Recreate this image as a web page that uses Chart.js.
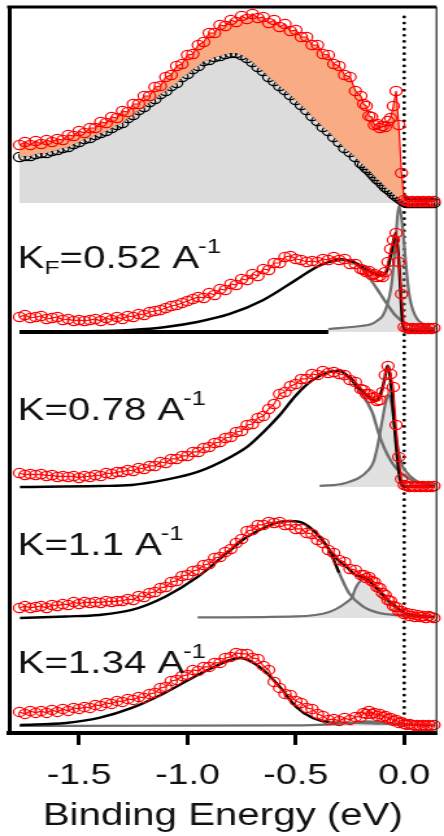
<!DOCTYPE html>
<html>
<head>
<meta charset="utf-8">
<script src="https://cdn.jsdelivr.net/npm/chart.js@4.4.1/dist/chart.umd.min.js"></script>
<style>
  html, body { margin: 0; padding: 0; background: #fff; }
</style>
</head>
<body>
<!-- the reference figure is a horizontally stretched bitmap, so the canvas is stretched the same way -->
<canvas id="chart" width="342" height="836" style="width:444px;height:836px"></canvas>
<script>
// energy grid of the measured points (eV), fine steps close to the Fermi level
const XS = [-1.775, -1.75, -1.725, -1.7, -1.675, -1.65, -1.625, -1.6,
    -1.575, -1.55, -1.525, -1.5, -1.475, -1.45, -1.425, -1.4,
    -1.375, -1.35, -1.325, -1.3, -1.275, -1.25, -1.225, -1.2,
    -1.175, -1.15, -1.125, -1.1, -1.075, -1.05, -1.025, -1.0,
    -0.975, -0.95, -0.925, -0.9, -0.875, -0.85, -0.825, -0.8,
    -0.775, -0.75, -0.725, -0.7, -0.675, -0.65, -0.625, -0.6,
    -0.575, -0.55, -0.525, -0.5, -0.475, -0.45, -0.425, -0.4,
    -0.375, -0.35, -0.325, -0.3, -0.275, -0.25, -0.225, -0.2,
    -0.1875, -0.175, -0.1625, -0.15, -0.1375, -0.125, -0.1125, -0.1,
    -0.0875, -0.075, -0.0625, -0.05, -0.0375, -0.025, -0.0125, 0,
    0.0125, 0.025, 0.0375, 0.05, 0.0625, 0.075, 0.0875, 0.1,
    0.1125, 0.125, 0.1375];

// top panel: EDC at the edge (red) and background EDC (black)
const P1_EDGE = [58, 61, 58, 62, 59, 63, 61, 64,
    63, 68, 67, 72, 70, 75, 75, 81,
    80, 86, 85, 92, 91, 99, 99, 107,
    107, 116, 117, 126, 128, 137, 139, 148,
    149, 158, 161, 170, 170, 178, 177, 183,
    181, 187, 184, 189, 185, 186, 180, 183,
    176, 179, 172, 173, 166, 166, 158, 158,
    149, 148, 139, 137, 128, 126, 112, 107,
    99, 97, 87, 86, 78, 79, 75, 77,
    76, 82, 85, 97, 112, 78, 30, 3,
    2, 1, 2, 1, 2, 1, 2, 1,
    2, 1, 2];
const P1_BG = [46, 47, 47, 49, 50, 50, 52, 53,
    55, 56, 59, 61, 64, 65, 68, 70,
    72, 75, 78, 80, 85, 88, 93, 96,
    101, 104, 109, 112, 117, 120, 126, 129,
    134, 137, 142, 143, 146, 147, 149, 150,
    150, 148, 145, 141, 136, 132, 126, 122,
    117, 113, 108, 103, 98, 93, 87, 82,
    76, 72, 66, 61, 55, 51, 46, 40,
    38, 35, 33, 30, 27, 24, 22, 19,
    16, 14, 12, 9, 7, 5, 3, 1,
    0, 0, 0, 0, 0, 0, 0, 0,
    0, 0, 0];

// measured EDCs for each momentum
const P2_DATA = [15, 17, 14, 15, 16, 13, 14, 15,
    12, 13, 11, 12, 11, 12, 13, 11,
    14, 12, 15, 13, 16, 15, 18, 17,
    20, 21, 22, 24, 26, 27, 29, 31,
    33, 35, 34, 39, 37, 43, 42, 48,
    47, 53, 52, 58, 56, 63, 62, 69,
    69, 75, 76, 73, 72, 70, 71, 70,
    73, 72, 75, 72, 73, 68, 68, 63,
    62, 60, 61, 57, 58, 55, 56, 55,
    60, 70, 83, 92, 99, 70, 38, 5,
    4, 3, 4, 3, 4, 3, 4, 3,
    4, 3, 4];
const P3_DATA = [14, 12, 13, 12, 13, 11, 12, 10,
    11, 10, 11, 9, 11, 10, 12, 11,
    14, 13, 15, 15, 17, 16, 19, 18,
    21, 21, 25, 24, 28, 28, 31, 31,
    35, 35, 39, 40, 44, 45, 49, 50,
    55, 56, 62, 63, 69, 71, 78, 83,
    93, 95, 101, 103, 108, 108, 113, 112,
    116, 114, 115, 113, 112, 107, 105, 98,
    97, 93, 93, 89, 90, 86, 87, 95,
    112, 121, 113, 100, 62, 30, 8, 2,
    1, 0, 1, 0, 1, 0, 1, 0,
    1, 0, 1];
const P4_DATA = [10, 12, 10, 11, 12, 10, 13, 12,
    14, 13, 16, 14, 16, 15, 16, 15,
    17, 16, 17, 17, 19, 18, 22, 21,
    25, 26, 30, 31, 36, 37, 42, 43,
    47, 48, 53, 54, 60, 61, 66, 69,
    75, 79, 87, 88, 93, 93, 96, 95,
    96, 93, 93, 89, 89, 85, 84, 78,
    75, 68, 65, 58, 56, 49, 48, 43,
    43, 40, 41, 37, 36, 31, 30, 25,
    23, 18, 17, 12, 11, 7, 7, 4,
    5, 2, 4, 1, 3, 1, 2, 0,
    2, 1, 0];
const P5_DATA = [14, 12, 15, 13, 15, 13, 16, 14,
    17, 15, 18, 17, 19, 18, 21, 20,
    23, 22, 25, 24, 27, 26, 29, 28,
    32, 33, 38, 39, 45, 46, 50, 51,
    56, 55, 59, 59, 63, 63, 68, 69,
    73, 72, 72, 68, 67, 60, 56, 44,
    38, 32, 31, 25, 23, 18, 17, 12,
    10, 6, 7, 5, 8, 6, 9, 9,
    13, 12, 15, 12, 13, 10, 12, 9,
    10, 7, 8, 5, 6, 3, 4, 2,
    1, 2, 1, 0, 1, 0, 1, 0,
    1, 0, 1];

// fitted components: broad hump, sharp peak, and total fit
const P2_BROAD_X = [-1.773, -1.59, -1.41, -1.26, -1.1, -0.955, -0.805, -0.65, -0.5, -0.42, -0.347,
    -0.293, -0.247, -0.215, -0.18, -0.147, -0.11, -0.079, -0.042, 0.003, 0.049, 0.108, 0.14];
const P2_BROAD = [0.5, 0.5, 1, 2, 5, 10, 18, 32, 52, 63, 70,
    72, 71, 68, 60, 50, 38, 28, 17, 9, 6, 4, 3];
const P2_TOTAL_X = [-0.347, -0.3, -0.25, -0.2, -0.15, -0.12, -0.1, -0.08, -0.06, -0.04, -0.03, -0.02, -0.01, 0, 0.14];
const P2_TOTAL = [70, 73, 71, 66, 60, 57, 57, 61, 78, 99, 85, 55, 15, 2, 1];
const P2_SHARP_X = [-0.35, -0.2, -0.15, -0.12, -0.1, -0.08, -0.06, -0.05, -0.04, -0.03, -0.024,
    -0.015, -0.005, 0.005, 0.015, 0.025, 0.04, 0.06, 0.08, 0.11, 0.14];
const P2_SHARP = [3, 6, 8, 12, 16, 26, 45, 65, 90, 118, 126,
    118, 100, 75, 52, 35, 22, 13, 9, 5, 4];
const P2_BASE_X = [-1.775, -0.35];
const P2_BASE = [0, 0];

const P3_BROAD_X = [-1.773, -1.408, -1.257, -1.105, -0.953, -0.801, -0.725, -0.649, -0.574, -0.498, -0.422,
    -0.346, -0.3, -0.255, -0.209, -0.148, -0.118, -0.088, -0.042, 0.034, 0.14];
const P3_BROAD = [0, 1, 2, 7, 15, 30, 40, 55, 72, 92, 107,
    115, 116, 110, 97, 75, 54, 37, 20, 7, 2];
const P3_TOTAL_X = [-0.255, -0.209, -0.18, -0.15, -0.13, -0.11, -0.09, -0.078, -0.07, -0.06, -0.05,
    -0.04, -0.03, -0.02, -0.01, 0, 0.14];
const P3_TOTAL = [111, 100, 93, 88, 86, 92, 108, 121, 118, 100, 75,
    48, 25, 8, 2, 0.5, 0.5];
const P3_SHARP_X = [-0.39, -0.27, -0.164, -0.14, -0.12, -0.1, -0.085, -0.073, -0.06, -0.05, -0.04,
    -0.027, -0.01, 0.003, 0.049, 0.125, 0.14];
const P3_SHARP = [1, 4, 17, 26, 44, 68, 85, 92, 85, 70, 55,
    37, 22, 17, 7, 2, 2];

const P4_BROAD_X = [-1.773, -1.56, -1.408, -1.257, -1.105, -0.953, -0.801, -0.725, -0.649, -0.574, -0.528,
    -0.467, -0.407, -0.346, -0.3, -0.255, -0.194, -0.118, -0.042, 0.109, 0.14];
const P4_BROAD = [0, 1.5, 3, 8, 21, 41, 68, 81, 90, 96, 97,
    95, 85, 68, 45, 25, 12, 5, 3, 1, 1];
const P4_TOTAL_X = [-0.346, -0.3, -0.27, -0.224, -0.179, -0.133, -0.088, -0.042, 0.003, 0.064, 0.14];
const P4_TOTAL = [68, 57, 52, 43, 40, 31, 21, 12, 5, 2, 1];
const P4_SHARP_X = [-0.953, -0.498, -0.346, -0.27, -0.24, -0.224, -0.194, -0.179, -0.165, -0.133, -0.118,
    -0.088, -0.057, 0.003, 0.064, 0.125, 0.14];
const P4_SHARP = [0.5, 1.5, 6, 15, 21, 30, 39, 41, 39, 31, 28,
    19, 13, 5, 2, 1, 1];

const P5_BROAD_X = [-1.773, -1.56, -1.408, -1.257, -1.105, -0.953, -0.877, -0.801, -0.755, -0.695, -0.649,
    -0.574, -0.498, -0.422, -0.346, -0.194, -0.042, 0.125, 0.14];
const P5_BROAD = [1, 3, 8, 18, 33, 51, 59, 66, 68, 63, 56,
    39, 19, 8, 4, 3, 2, 1, 1];
const P5_SHARP_X = [-1.775, -0.5, -0.35, -0.25, -0.17, -0.1, -0.04, 0.05, 0.14];
const P5_SHARP = [0, 0.5, 1.5, 3, 4.5, 3.5, 2, 1, 0.5];

const XTICKS = [-1.5, -1.0, -0.5, 0.0];

const LABEL_PANELS = ['y2', 'y3', 'y4', 'y5'];
const LABEL_MAIN = ['K', 'K', 'K', 'K'];
const LABEL_SUB = ['F', '', '', ''];
const LABEL_REST = ['=0.52 A', '=0.78 A', '=1.1 A', '=1.34 A'];
const LABEL_SUP = '-1';

const RED = '#ff0000';
const BLACK = '#000000';
const GRAY = '#6f6f6f';
const FONT = '"Liberation Sans", Arial, sans-serif';

Chart.defaults.font.family = FONT;
Chart.defaults.color = '#111';

const pts = (xs, ys) => xs.map((x, i) => ({ x: x, y: ys[i] }));

// measured points: hollow red circles joined by a thin red line
const measured = (ys, axis) => ({
    data: pts(XS, ys),
    yAxisID: axis,
    borderColor: RED,
    borderWidth: 1.2,
    pointRadius: 4.6,
    pointBorderWidth: 1.2,
    pointBorderColor: RED,
    pointBackgroundColor: 'rgba(0,0,0,0)',
    fill: false,
    order: 0
});

// smooth fit curve, black before "cut" and gray after it
const curve = (xs, ys, axis, cut, order) => ({
    data: pts(xs, ys),
    yAxisID: axis,
    borderColor: BLACK,
    borderWidth: 2.4,
    pointRadius: 0,
    cubicInterpolationMode: 'monotone',
    fill: false,
    segment: {
        borderColor: c => c.p0.parsed.x < cut ? BLACK : GRAY
    },
    order: order
});

const sharp = (xs, ys, axis) => ({
    data: pts(xs, ys),
    yAxisID: axis,
    borderColor: GRAY,
    borderWidth: 2.2,
    pointRadius: 0,
    cubicInterpolationMode: 'monotone',
    fill: 'origin',
    backgroundColor: 'rgba(170,170,170,0.35)',
    order: 3
});

const datasets = [
    // top panel
    Object.assign(measured(P1_EDGE, 'y1'), { fill: '+1', backgroundColor: '#f9ab84' }),
    {
        data: pts(XS, P1_BG),
        yAxisID: 'y1',
        borderColor: 'rgba(0,0,0,0.45)',
        borderWidth: 1,
        pointRadius: 4.6,
        pointBorderWidth: 1.2,
        pointBorderColor: BLACK,
        pointBackgroundColor: 'rgba(0,0,0,0)',
        fill: 'origin',
        backgroundColor: '#dcdcdc',
        order: 1
    },
    // kF
    measured(P2_DATA, 'y2'),
    curve(P2_TOTAL_X, P2_TOTAL, 'y2', 1, 1),
    curve(P2_BROAD_X, P2_BROAD, 'y2', -0.3, 2),
    sharp(P2_SHARP_X, P2_SHARP, 'y2'),
    Object.assign(curve(P2_BASE_X, P2_BASE, 'y2', 1, 4), { borderWidth: 4 }),
    // 0.78
    measured(P3_DATA, 'y3'),
    curve(P3_TOTAL_X, P3_TOTAL, 'y3', 1, 1),
    curve(P3_BROAD_X, P3_BROAD, 'y3', -0.22, 2),
    sharp(P3_SHARP_X, P3_SHARP, 'y3'),
    // 1.1
    measured(P4_DATA, 'y4'),
    curve(P4_TOTAL_X, P4_TOTAL, 'y4', 1, 1),
    curve(P4_BROAD_X, P4_BROAD, 'y4', -0.34, 2),
    sharp(P4_SHARP_X, P4_SHARP, 'y4'),
    // 1.34
    measured(P5_DATA, 'y5'),
    curve(P5_BROAD_X, P5_BROAD, 'y5', -0.4, 2),
    sharp(P5_SHARP_X, P5_SHARP, 'y5')
];
datasets.forEach(d => { d.clip = false; });

// one hidden y axis per panel, stacked from top to bottom
const panel = (min, max, weight) => ({
    type: 'linear',
    position: 'left',
    stack: 'panels',
    stackWeight: max - min,
    weight: weight,
    min: min,
    max: max,
    ticks: { display: false },
    grid: { display: false, drawTicks: false },
    border: { display: true, color: BLACK, width: 3 }
});

const figPlugin = {
    id: 'fig',
    beforeDatasetsDraw(chart) {
        const { ctx, chartArea } = chart;
        const x0 = chart.scales.x.getPixelForValue(0);
        ctx.save();
        ctx.strokeStyle = BLACK;
        ctx.lineWidth = 2.8;
        ctx.lineCap = 'round';
        ctx.setLineDash([0.01, 6.1]);
        ctx.beginPath();
        ctx.moveTo(x0, chartArea.top + 10);
        ctx.lineTo(x0, chartArea.bottom - 3);
        ctx.stroke();
        ctx.restore();
    },
    afterDraw(chart) {
        const { ctx, chartArea } = chart;
        ctx.save();
        // top and right sides of the box
        ctx.strokeStyle = BLACK;
        ctx.lineWidth = 3;
        ctx.beginPath();
        ctx.moveTo(chartArea.left - 1.5, chartArea.top);
        ctx.lineTo(chartArea.right, chartArea.top);
        ctx.stroke();
        ctx.lineWidth = 1.2;
        ctx.strokeStyle = '#222';
        ctx.beginPath();
        ctx.moveTo(chartArea.right, chartArea.top);
        ctx.lineTo(chartArea.right, chartArea.bottom);
        ctx.stroke();

        // momentum labels
        const levels = [64, 67, 63, 53];
        ctx.fillStyle = '#111';
        ctx.textAlign = 'left';
        ctx.textBaseline = 'alphabetic';
        LABEL_PANELS.forEach((id, i) => {
            const y = chart.scales[id].getPixelForValue(levels[i]);
            let x = chart.scales.x.getPixelForValue(-1.775) - 1.5;
            ctx.font = '31px ' + FONT;
            ctx.fillText(LABEL_MAIN[i], x, y);
            x += ctx.measureText(LABEL_MAIN[i]).width;
            if (LABEL_SUB[i]) {
                ctx.font = '19px ' + FONT;
                ctx.fillText(LABEL_SUB[i], x, y + 6);
                x += ctx.measureText(LABEL_SUB[i]).width;
            }
            ctx.font = '31px ' + FONT;
            ctx.fillText(LABEL_REST[i], x, y);
            x += ctx.measureText(LABEL_REST[i]).width;
            ctx.font = '20px ' + FONT;
            ctx.fillText(LABEL_SUP, x - 1, y - 15);
        });
        ctx.restore();
    }
};

new Chart(document.getElementById('chart'), {
    type: 'line',
    data: { datasets: datasets },
    plugins: [figPlugin],
    options: {
        responsive: false,
        animation: false,
        events: [],
        layout: { padding: { left: 7, right: 1.5, top: 7, bottom: 10.4 } },
        plugins: {
            legend: { display: false },
            tooltip: { enabled: false }
        },
        scales: {
            x: {
                type: 'linear',
                min: -1.823,
                max: 0.149,
                afterBuildTicks: axis => {
                    axis.ticks = XTICKS.map(v => ({ value: v }));
                },
                // labels never reach the box edges, so no extra side room is needed
                afterFit: axis => {
                    axis.paddingLeft = 0;
                    axis.paddingRight = 0;
                },
                ticks: {
                    autoSkip: false,
                    maxRotation: 0,
                    padding: 0,
                    color: '#111',
                    font: { size: 29, lineHeight: 2.14 },
                    callback: v => v.toFixed(1)
                },
                grid: {
                    display: true,
                    drawOnChartArea: false,
                    drawTicks: true,
                    tickLength: 12,
                    tickWidth: 3,
                    tickColor: BLACK
                },
                border: { display: true, color: BLACK, width: 4 },
                title: {
                    display: true,
                    text: 'Binding Energy (eV)',
                    color: '#111',
                    font: { size: 31, lineHeight: 0.6 },
                    padding: 0
                }
            },
            y5: panel(-7, 105, 1),
            y4: panel(-3, 128, 2),
            y3: panel(-3, 151, 3),
            y2: panel(-4, 126, 4),
            y1: panel(-3, 196, 5)
        }
    }
});
</script>
</body>
</html>
